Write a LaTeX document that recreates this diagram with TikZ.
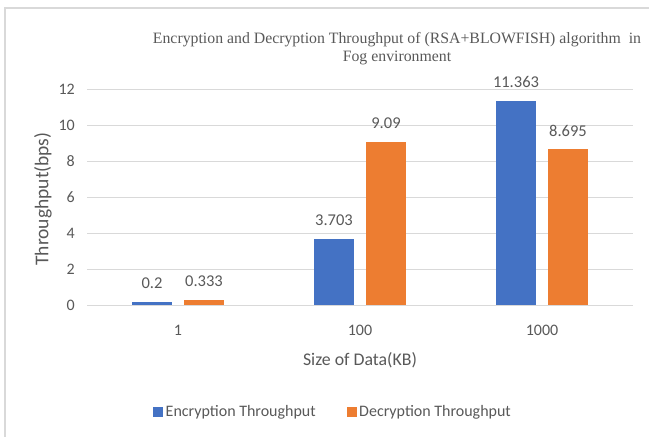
\documentclass[tikz,border=0pt]{standalone}
\usepackage{fontspec}
\setmainfont{Carlito}
\newfontfamily\titlefont{Liberation Serif}
\definecolor{encblue}{HTML}{4472C4}
\definecolor{decorange}{HTML}{ED7D31}
\definecolor{txtgray}{HTML}{595959}
\definecolor{gridgray}{HTML}{D9D9D9}
\tikzset{
  gridline/.style={draw=gridgray, line width=1.3pt},
  ticklbl/.style={text=txtgray, font=\fontsize{16}{18}\selectfont, inner sep=0pt},
  datalbl/.style={text=txtgray, font=\fontsize{16.5}{18}\selectfont, inner sep=0pt},
  axtitle/.style={text=txtgray, font=\fontsize{17.8}{20}\selectfont, inner sep=0pt},
  legendlbl/.style={text=txtgray, font=\fontsize{16}{18}\selectfont, inner sep=0pt, anchor=west},
  encbar/.style={fill=encblue},
  decbar/.style={fill=decorange},
}
\begin{document}
\begin{tikzpicture}[x=1pt,y=-1pt]
\useasboundingbox (0,0) rectangle (649,437);
\fill[white] (0,0) rectangle (649,437);
% chart frame
\draw[gridgray, line width=1.5pt] (5,440) -- (5,8) -- (652,8);
% gridlines
\foreach \v in {2,4,...,12} {
  \draw[gridline] (87,{305.5-18*\v}) -- (633,{305.5-18*\v});
}
% bars
\foreach \c/\e/\d [count=\i] in {178/0.2/0.333, 360/3.703/9.09, 542/11.363/8.695} {
  \fill[encbar] ({\c-46},305.5) rectangle ({\c-6},{305.5-18*\e});
  \fill[decbar] ({\c+6},305.5) rectangle ({\c+46},{305.5-18*\d});
  \node[datalbl] (e\i) at ({\c-26},{305.5-18*\e-18.5}) {\e};
  \node[datalbl] (d\i) at ({\c+26},{305.5-18*\d-18.5}) {\d};
}
% axis line
\draw[gridline] (87,305.5) -- (633,305.5);
% y tick labels
\foreach \v in {0,2,...,12} {
  \node[ticklbl, anchor=east] (y\v) at (75,{305.5-18*\v}) {\v};
}
% x tick labels
\node[ticklbl] (x1) at (178,330) {1};
\node[ticklbl] (x2) at (360,330) {100};
\node[ticklbl] (x3) at (542,330) {1000};
% axis titles
\node[axtitle] (xt) at (360,360) {Size of Data(KB)};
\node[axtitle, font=\fontsize{19.5}{22}\selectfont, rotate=90] (yt) at (43,199) {Throughput(bps)};
% chart title
\node[text=txtgray, align=center, inner sep=0pt, font=\titlefont\fontsize{15.8}{18}\selectfont] (title) at (397,49)
  {Encryption and Decryption Throughput of (RSA+BLOWFISH) algorithm\ \ in\\Fog environment};
% legend
\fill[encblue] (153,407) rectangle (163,417);
\node[legendlbl] (l1) at (165.5,412) {Encryption Throughput};
\fill[decorange] (346.5,407) rectangle (356.5,417);
\node[legendlbl] (l2) at (359,412) {Decryption Throughput};
\end{tikzpicture}
\end{document}
